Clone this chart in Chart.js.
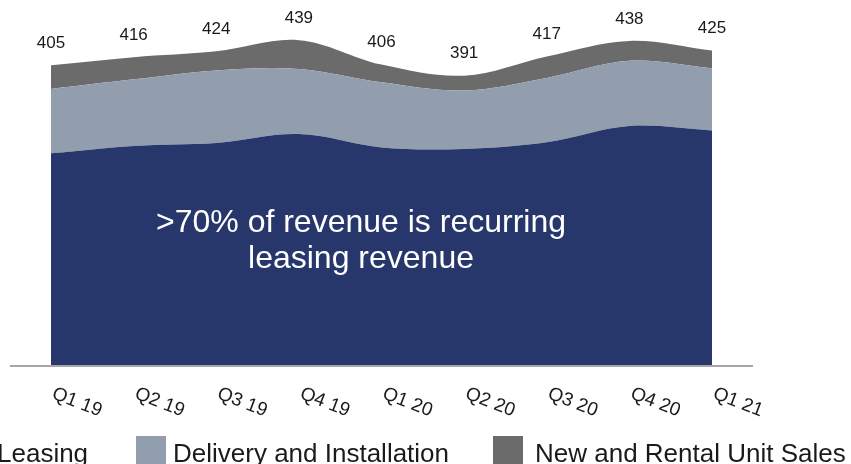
<!DOCTYPE html>
<html>
<head>
<meta charset="utf-8">
<script src="https://cdn.jsdelivr.net/npm/chart.js@4.4.1/dist/chart.umd.min.js"></script>
<style>
  html, body { margin: 0; padding: 0; background: #ffffff; }
  #wrap { width: 851px; height: 464px; position: relative; overflow: hidden; }
</style>
</head>
<body>
<div id="wrap"><canvas id="c" width="851" height="464"></canvas></div>
<script>
const categories = ['Q1 19', 'Q2 19', 'Q3 19', 'Q4 19', 'Q1 20', 'Q2 20', 'Q3 20', 'Q4 20', 'Q1 21'];
const leasing = [286, 296, 300, 312, 294, 292, 301, 323, 317];
const delivery = [87, 90, 98, 88, 88, 79, 87, 88, 84];
const unitSales = [32, 30, 26, 39, 24, 20, 29, 27, 24];
const totalLabels = ['405', '416', '424', '439', '406', '391', '417', '438', '425'];
const seriesNames = ['Leasing', 'Delivery and Installation', 'New and Rental Unit Sales'];
const overlayLines = ['>70% of revenue is recurring', 'leasing revenue'];

const FONT = '"Liberation Sans", Arial, sans-serif';
const colors = ['#27366b', '#929eae', '#6b6b6b'];

const decorPlugin = {
  id: 'decor',
  afterDatasetsDraw(chart) {
    const ctx = chart.ctx;
    const xs = chart.scales.x, ys = chart.scales.y;
    ctx.save();
    // axis line
    ctx.strokeStyle = '#a6a6a6';
    ctx.lineWidth = 2;
    ctx.beginPath();
    ctx.moveTo(10, ys.getPixelForValue(0) + 1);
    ctx.lineTo(753, ys.getPixelForValue(0) + 1);
    ctx.stroke();

    // totals labels
    ctx.fillStyle = '#1a1a1a';
    ctx.font = '17px ' + FONT;
    ctx.textAlign = 'center';
    ctx.textBaseline = 'middle';
    categories.forEach((c, i) => {
      const tot = leasing[i] + delivery[i] + unitSales[i];
      ctx.fillText(totalLabels[i], xs.getPixelForValue(i), ys.getPixelForValue(tot) - 22);
    });

    // overlay text
    ctx.fillStyle = '#ffffff';
    ctx.font = '32px ' + FONT;
    ctx.textAlign = 'center';
    ctx.textBaseline = 'alphabetic';
    ctx.fillText(overlayLines[0], 361, 232);
    ctx.fillText(overlayLines[1], 361, 268);

    // rotated x labels
    ctx.fillStyle = '#1a1a1a';
    ctx.font = '19px ' + FONT;
    ctx.textAlign = 'left';
    ctx.textBaseline = 'alphabetic';
    categories.forEach((c, i) => {
      ctx.save();
      ctx.translate(xs.getPixelForValue(i), 398);
      ctx.rotate(21 * Math.PI / 180);
      ctx.fillText(c, 0, 0);
      ctx.restore();
    });

    // legend
    const boxX = [-40, 136, 493];
    const textOff = [37, 37, 42];
    ctx.font = '26px ' + FONT;
    seriesNames.forEach((n, i) => {
      ctx.fillStyle = chart.data.datasets[i].backgroundColor;
      ctx.fillRect(boxX[i], 436, 30, 30);
      ctx.fillStyle = '#1a1a1a';
      ctx.fillText(n, boxX[i] + textOff[i], 462);
    });
    ctx.restore();
  }
};

new Chart(document.getElementById('c'), {
  type: 'line',
  data: {
    labels: categories,
    datasets: [
      { label: seriesNames[0], data: leasing, backgroundColor: colors[0], borderColor: colors[0], fill: 'origin' },
      { label: seriesNames[1], data: delivery, backgroundColor: colors[1], borderColor: colors[1], fill: '-1' },
      { label: seriesNames[2], data: unitSales, backgroundColor: colors[2], borderColor: colors[2], fill: '-1' }
    ]
  },
  options: {
    responsive: false,
    animation: false,
    events: [],
    layout: { padding: { left: 51, right: 139, top: 32, bottom: 99 } },
    elements: {
      point: { radius: 0 },
      line: { tension: 0.35, borderWidth: 0 }
    },
    scales: {
      x: { display: false, offset: false },
      y: { display: false, stacked: true, min: 0, max: 450 }
    },
    plugins: { legend: { display: false }, tooltip: { enabled: false } }
  },
  plugins: [decorPlugin]
});
</script>
</body>
</html>
